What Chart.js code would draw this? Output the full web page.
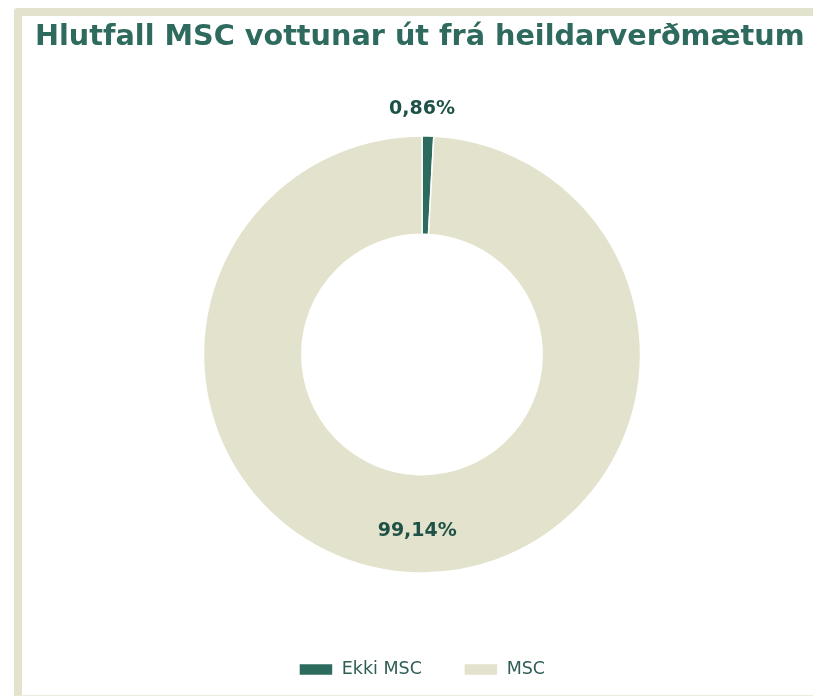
<!DOCTYPE html>
<html>
<head>
<meta charset="utf-8">
<script src="https://cdn.jsdelivr.net/npm/chart.js@4"></script>
<style>
  html, body { margin: 0; padding: 0; background: #ffffff; width: 813px; height: 697px; overflow: hidden; }
  .card {
    position: absolute; left: 14px; top: 8px;
    width: 820px; height: 679px;
    border-left: 8px solid #e3e2cc; border-top: 8px solid #e3e2cc;
    border-bottom: 1px solid #ecebdd;
    border-top-left-radius: 4px;
    background: #ffffff;
  }
  .title {
    position: absolute; left: 13px; top: 5px;
    font-family: "DejaVu Sans", sans-serif; font-weight: bold;
    font-size: 28.7px; line-height: 28.7px; color: #2e6b5e; white-space: nowrap;
  }
  canvas { position: absolute; left: 0; top: 0; }
</style>
</head>
<body>
<div class="card">
  <canvas id="c" width="800" height="679"></canvas>
  <div class="title">Hlutfall MSC vottunar út frá heildarverðmætum</div>
</div>
<script>
const categories = ["Ekki MSC", "MSC"];
const values = [0.86, 99.14];
const valueLabels = ["0,86%", "99,14%"];
const colors = ["#2e6b5f", "#e3e2cc"];

const labelPlugin = {
  id: 'sliceLabels',
  afterDatasetsDraw(chart) {
    const ctx = chart.ctx;
    const meta = chart.getDatasetMeta(0);
    ctx.save();
    ctx.font = 'bold 19px "DejaVu Sans", sans-serif';
    ctx.fillStyle = '#1f5247';
    ctx.textAlign = 'center';
    ctx.textBaseline = 'middle';
    const total = values.reduce((a, b) => a + b, 0);
    meta.data.forEach((arc, i) => {
      const p = arc.getProps(['x', 'y', 'startAngle', 'endAngle', 'innerRadius', 'outerRadius'], true);
      const share = values[i] / total;
      let lx, ly;
      if (share < 0.05) {
        lx = p.x;
        ly = p.y - p.outerRadius - 27;
      } else {
        const mid = (p.startAngle + p.endAngle) / 2;
        const r = (p.innerRadius + p.outerRadius) / 2 + 7.5;
        lx = p.x + Math.cos(mid) * r;
        ly = p.y + Math.sin(mid) * r;
      }
      ctx.fillText(valueLabels[i], lx, ly);
    });
    ctx.restore();
  }
};

new Chart(document.getElementById('c'), {
  type: 'doughnut',
  data: {
    labels: categories,
    datasets: [{
      data: values,
      backgroundColor: colors,
      borderColor: '#ffffff',
      borderWidth: 1.5,
      hoverOffset: 0
    }]
  },
  options: {
    responsive: false,
    devicePixelRatio: 1,
    animation: false,
    radius: 218.5,
    cutout: '55%',
    layout: { padding: { top: 74.25, bottom: 6.75, left: 0, right: 0 } },
    plugins: {
      title: { display: false },
      tooltip: { enabled: false },
      legend: {
        position: 'bottom',
        labels: {
          boxWidth: 34,
          boxHeight: 12,
          padding: 42,
          color: '#2e5e55',
          font: { family: '"DejaVu Sans", sans-serif', size: 17.5 }
        }
      }
    }
  },
  plugins: [labelPlugin]
});
</script>
</body>
</html>
